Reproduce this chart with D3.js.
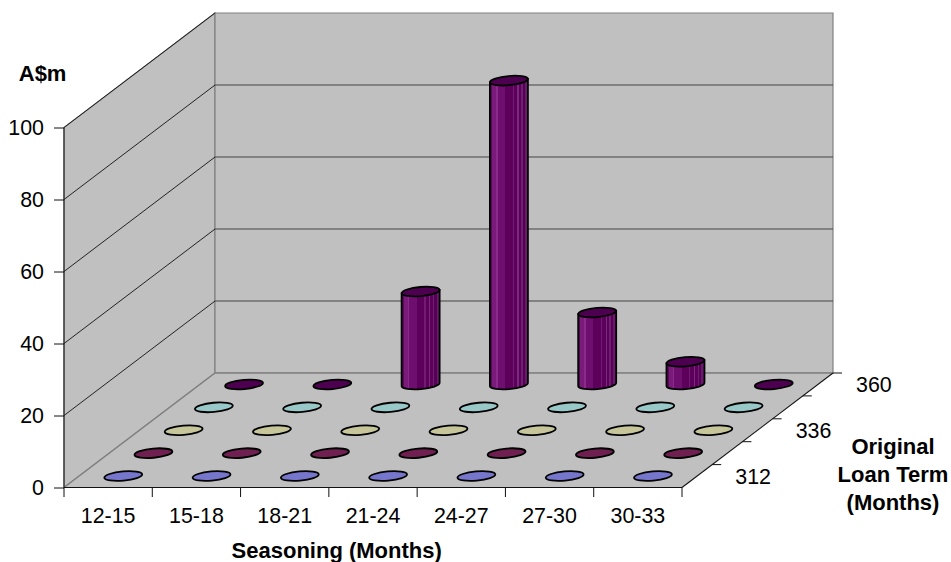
<!DOCTYPE html>
<html>
<head>
<meta charset="utf-8">
<script src="https://cdn.jsdelivr.net/npm/d3@7"></script>
<style>
  html, body { margin: 0; padding: 0; background: #fff; }
  text { font-family: "Liberation Sans", Arial, sans-serif; fill: #000; }
</style>
</head>
<body>
<div id="graph"></div>
<script>
const categories = ["12-15", "15-18", "18-21", "21-24", "24-27", "27-30", "30-33"];
const termLabels = ["312", "", "336", "", "360"];
const yTicks = [0, 20, 40, 60, 80, 100];

// one list per loan term, front row first
const term312 = [0, 0, 0, 0, 0, 0, 0];
const term324 = [0, 0, 0, 0, 0, 0, 0];
const term336 = [0, 0, 0, 0, 0, 0, 0];
const term348 = [0, 0, 0, 0, 0, 0, 0];
const term360 = [0, 0, 25.8, 84.4, 20, 6.3, 0];
const rows = [term312, term324, term336, term348, term360];

const rowColors = ["#7676cc", "#6f2050", "#c6c69a", "#99c8c8", "#4e0050"];

const width = 951, height = 562;
const front = { left: 64, right: 682, bottom: 487.5 };
const depth = { dx: 151, dy: -114.5 };
const tickFont = "21.4px", titleFont = "22px";

const svg = d3.select("#graph").append("svg")
  .attr("width", width)
  .attr("height", height)
  .style("display", "block");

const x = d3.scaleBand().domain(categories).range([front.left, front.right]);
const y = d3.scaleLinear().domain([0, 100]).range([front.bottom, 127.5]);
const z = d3.scaleLinear().domain([0, termLabels.length]).range([0, 1]);

// value on the front wall -> page position, pushed back by depth fraction d
const project = (px, py, d) => [px + depth.dx * d, py + depth.dy * d];
const poly = pts => "M" + pts.map(p => p.join(",")).join("L") + "Z";

// walls and floor
const wallGrey = "#c0c0c0", edgeGrey = "#808080";
svg.append("path").attr("fill", wallGrey).attr("stroke", edgeGrey).attr("stroke-width", 1.2)
  .attr("d", poly([[front.left, y(0)], [front.left, y(100)], project(front.left, y(100), 1), project(front.left, y(0), 1)]));
svg.append("path").attr("fill", wallGrey).attr("stroke", edgeGrey).attr("stroke-width", 1.2)
  .attr("d", poly([project(front.left, y(100), 1), project(front.right, y(100), 1), project(front.right, y(0), 1), project(front.left, y(0), 1)]));
svg.append("path").attr("fill", wallGrey)
  .attr("d", poly([[front.left, y(0)], [front.right, y(0)], project(front.right, y(0), 1), project(front.left, y(0), 1)]));

// gridlines, skipping the floor and the top edge on the back wall
yTicks.filter(d => d > 0).forEach(d => {
  const a = [front.left, y(d)], b = project(front.left, y(d), 1), c = project(front.right, y(d), 1);
  svg.append("line").attr("x1", a[0]).attr("y1", a[1]).attr("x2", b[0]).attr("y2", b[1])
    .attr("stroke", "#111").attr("stroke-width", 0.9);
  if (d < 100) {
    svg.append("line").attr("x1", b[0]).attr("y1", b[1]).attr("x2", c[0]).attr("y2", c[1])
      .attr("stroke", "#444").attr("stroke-width", 1);
  }
});

// floor edges
const floorBackL = project(front.left, y(0), 1), floorBackR = project(front.right, y(0), 1);
svg.append("line").attr("x1", front.left).attr("y1", y(0)).attr("x2", floorBackL[0]).attr("y2", floorBackL[1])
  .attr("stroke", edgeGrey).attr("stroke-width", 1.5);
svg.append("line").attr("x1", floorBackL[0]).attr("y1", floorBackL[1]).attr("x2", floorBackR[0]).attr("y2", floorBackR[1])
  .attr("stroke", edgeGrey).attr("stroke-width", 1.5);

// stripes on the cylinder side
const stripes = [
  [0, "#5a0a5a"], [0.06, "#7a1a7a"], [0.16, "#8a2a8a"], [0.2, "#6e0e6e"], [0.4, "#5c005c"],
  [0.5, "#5c005c"], [0.6, "#731a73"], [0.63, "#5c005c"], [0.72, "#7a2a7a"], [0.76, "#5c005c"],
  [0.82, "#702070"], [0.86, "#560056"], [0.92, "#6a1a6a"], [1, "#4c004c"]
];
const grad = svg.append("defs").append("linearGradient").attr("id", "barSide");
stripes.forEach((s, i) => {
  grad.append("stop").attr("offset", s[0]).attr("stop-color", s[1]);
  if (i < stripes.length - 1) grad.append("stop").attr("offset", stripes[i + 1][0]).attr("stop-color", s[1]);
});

// marks, back row first so nearer ones paint over
const rx = 19, ry = 4.6, tilt = -5;
const lift = rx * Math.sin(tilt * Math.PI / 180);

d3.range(rows.length - 1, -1, -1).forEach(r => {
  const g = svg.append("g").attr("class", "row");
  const d = z(r + 0.5);
  rows[r].forEach((v, i) => {
    const cx0 = x(categories[i]) + x.bandwidth() / 2;
    const [cx, baseY] = project(cx0, y(0), d);
    const topY = baseY - (y(0) - y(v));
    if (v > 0) {
      g.append("path")
        .attr("fill", "url(#barSide)")
        .attr("stroke", "#000").attr("stroke-width", 1.8)
        .attr("d", `M${cx - rx},${topY - lift}L${cx - rx},${baseY - lift}` +
          `A${rx},${ry} ${tilt} 0 0 ${cx + rx},${baseY + lift}L${cx + rx},${topY + lift}Z`);
    }
    g.append("ellipse")
      .attr("cx", cx).attr("cy", topY)
      .attr("rx", rx).attr("ry", ry)
      .attr("transform", `rotate(${tilt} ${cx} ${topY})`)
      .attr("fill", rowColors[r])
      .attr("stroke", "#000").attr("stroke-width", 1.8);
  });
});

// y axis
const yAxis = svg.append("g")
  .attr("transform", `translate(${front.left},0)`)
  .call(d3.axisLeft(y).tickValues(yTicks).tickSize(10).tickPadding(10));
yAxis.select(".domain").attr("stroke", "#111").attr("stroke-width", 1).attr("d", `M0,${y(0)}V${y(100)}`);
yAxis.selectAll(".tick line").attr("stroke", "#111");
yAxis.selectAll(".tick text").attr("dy", "0.34em").style("font-size", tickFont).style("font-family", "Liberation Sans");

// x axis, ticks on band edges
const xAxis = svg.append("g").attr("transform", `translate(0,${front.bottom})`);
xAxis.append("line").attr("x1", front.left).attr("x2", front.right).attr("stroke", "#111").attr("stroke-width", 1.2);
x.domain().concat("end").forEach((c, i) => {
  const px = i < categories.length ? x(c) : x.range()[1];
  xAxis.append("line").attr("x1", px).attr("x2", px).attr("y1", 0).attr("y2", 9.5).attr("stroke", "#111");
});
xAxis.selectAll("text").data(categories).enter().append("text")
  .attr("x", d => x(d) + x.bandwidth() / 2)
  .attr("y", 35.2)
  .attr("text-anchor", "middle")
  .style("font-size", tickFont)
  .text(d => d);

// depth axis along the right floor edge
const edgeEnd = project(front.right, y(0), 1);
svg.append("line").attr("x1", front.right).attr("y1", y(0)).attr("x2", edgeEnd[0]).attr("y2", edgeEnd[1])
  .attr("stroke", "#111").attr("stroke-width", 1.1);
d3.range(1, termLabels.length + 1).forEach(i => {
  const p = project(front.right, y(0), z(i));
  svg.append("line").attr("x1", p[0]).attr("y1", p[1]).attr("x2", p[0] + 9).attr("y2", p[1]).attr("stroke", "#111");
});
termLabels.forEach((t, i) => {
  const p = project(front.right, y(0), z(i + 0.5));
  svg.append("text")
    .attr("x", p[0] + 56).attr("y", p[1] + 7.5)
    .attr("text-anchor", "middle")
    .style("font-size", tickFont)
    .text(t);
});

// titles
const title = (txt, tx, ty) => svg.append("text")
  .attr("x", tx).attr("y", ty)
  .attr("text-anchor", "middle")
  .style("font-size", titleFont).style("font-weight", "bold")
  .text(txt);
title("A$m", 42.6, 81);
title("Seasoning (Months)", 336.7, 558);
title("Original", 893, 454.3);
title("Loan Term", 893, 482.3);
title("(Months)", 893, 509.5);
</script>
</body>
</html>
